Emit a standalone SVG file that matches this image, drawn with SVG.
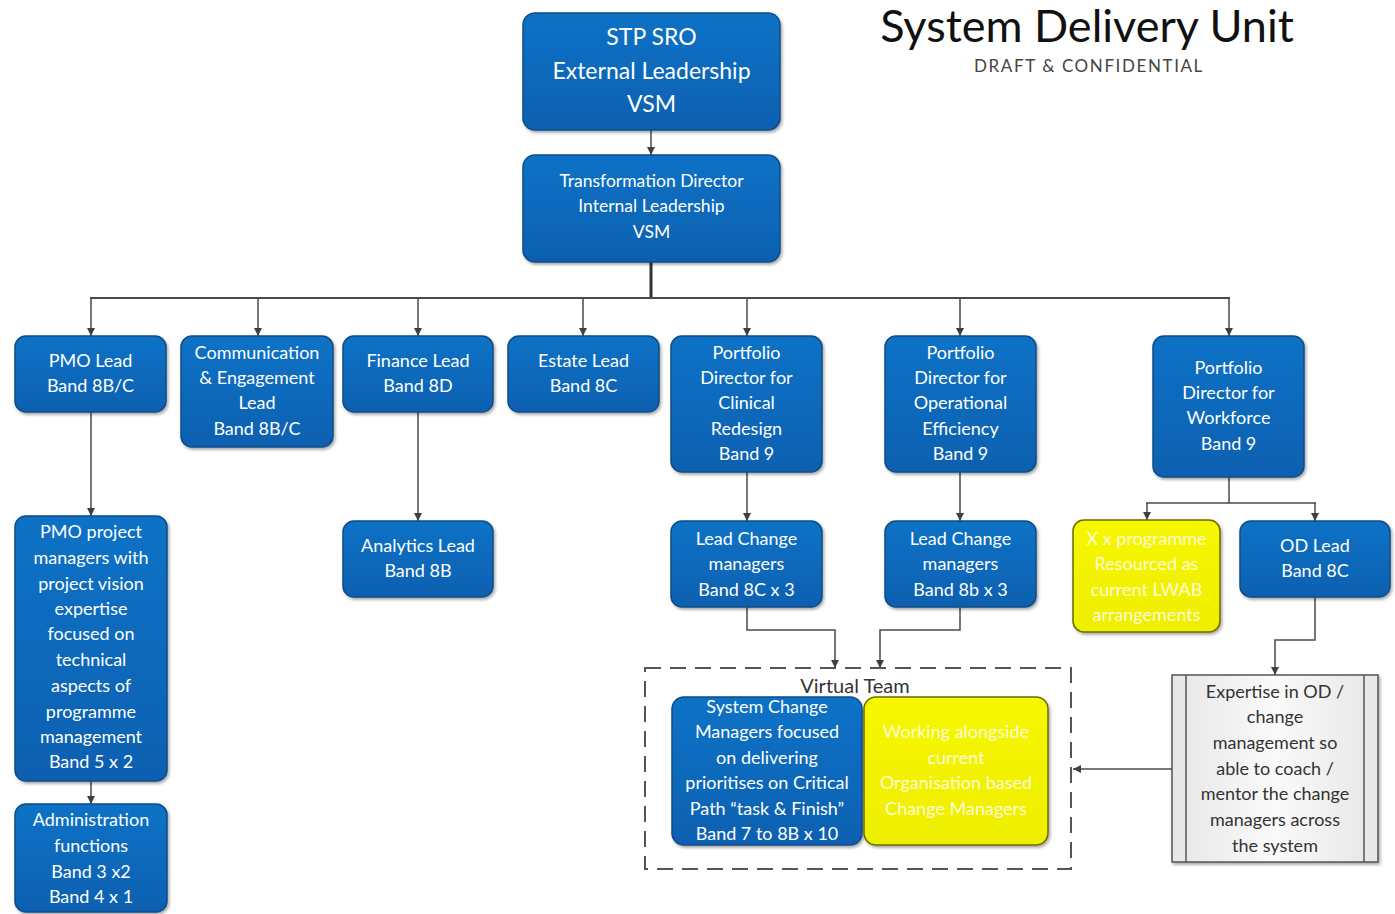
<svg xmlns="http://www.w3.org/2000/svg" width="1395" height="914" viewBox="0 0 1395 914">
<defs>
<linearGradient id="blue" x1="0" y1="0" x2="0" y2="1">
<stop offset="0" stop-color="#1172c6"/>
<stop offset="1" stop-color="#0a60b0"/>
</linearGradient>
<linearGradient id="yel" x1="0" y1="0" x2="0" y2="1">
<stop offset="0" stop-color="#f7f700"/>
<stop offset="1" stop-color="#eeee00"/>
</linearGradient>
<linearGradient id="grey" x1="0" y1="0" x2="1" y2="0">
<stop offset="0" stop-color="#e6e6e6"/>
<stop offset="0.5" stop-color="#fafafa"/>
<stop offset="1" stop-color="#e6e6e6"/>
</linearGradient>
<filter id="sh" x="-10%" y="-10%" width="125%" height="125%">
<feDropShadow dx="1.5" dy="2" stdDeviation="1.5" flood-color="#000" flood-opacity="0.35"/>
</filter>
<marker id="ar" viewBox="0 0 10 10" refX="10" refY="5" markerWidth="8" markerHeight="8" markerUnits="userSpaceOnUse" orient="auto">
<path d="M0,0 L10,5 L0,10 z" fill="#404040"/>
</marker>
</defs>
<style>
.b{fill:url(#blue);stroke:#0b4c88;stroke-width:1.5;filter:url(#sh)}
.y{fill:url(#yel);stroke:#6b6b00;stroke-width:1.5;filter:url(#sh)}
.t{font-family:Lato,"Open Sans","Liberation Sans",sans-serif;fill:#fff;text-anchor:middle;font-size:18px}
.ty{font-family:Lato,"Open Sans","Liberation Sans",sans-serif;fill:#fbfbd8;text-anchor:middle;font-size:18px}
.td{font-family:Lato,"Open Sans","Liberation Sans",sans-serif;fill:#333;text-anchor:middle;font-size:18px}
.c{fill:none;stroke:#4a4a4a;stroke-width:1.5}
.ca{fill:none;stroke:#4a4a4a;stroke-width:1.5;marker-end:url(#ar)}
</style>
<rect width="1395" height="914" fill="#fff"/>

<g id="title">
<text x="1087" y="42" font-family="Lato,'Open Sans','Liberation Sans',sans-serif" font-size="45" fill="#111" text-anchor="middle">System Delivery Unit</text>
<text x="1089" y="72" font-family="Lato,'Open Sans','Liberation Sans',sans-serif" font-size="17" fill="#444" text-anchor="middle" letter-spacing="1.6">DRAFT &amp; CONFIDENTIAL</text>
</g>

<g id="connectors">
<line class="ca" x1="651" y1="130" x2="651" y2="155"/>
<line x1="651" y1="262" x2="651" y2="298" stroke="#333" stroke-width="3"/>
<line x1="90" y1="298" x2="1230" y2="298" stroke="#4a4a4a" stroke-width="2"/>
<line class="ca" x1="91" y1="298" x2="91" y2="336"/>
<line class="ca" x1="258" y1="298" x2="258" y2="336"/>
<line class="ca" x1="418" y1="298" x2="418" y2="336"/>
<line class="ca" x1="583" y1="298" x2="583" y2="336"/>
<line class="ca" x1="747" y1="298" x2="747" y2="336"/>
<line class="ca" x1="960" y1="298" x2="960" y2="336"/>
<line class="ca" x1="1229" y1="298" x2="1229" y2="336"/>
<line class="ca" x1="91" y1="412" x2="91" y2="516"/>
<line class="ca" x1="91" y1="781" x2="91" y2="804"/>
<line class="ca" x1="418" y1="412" x2="418" y2="521"/>
<line class="ca" x1="747" y1="472" x2="747" y2="521"/>
<line class="ca" x1="960" y1="472" x2="960" y2="521"/>
<line class="c" x1="1229" y1="477" x2="1229" y2="503"/>
<line class="c" x1="1146" y1="503" x2="1316" y2="503"/>
<line class="ca" x1="1147" y1="503" x2="1147" y2="520"/>
<line class="ca" x1="1315" y1="503" x2="1315" y2="521"/>
<polyline class="ca" points="747,607 747,630 835,630 835,668"/>
<polyline class="ca" points="960,607 960,630 880,630 880,668"/>
<polyline class="ca" points="1315,597 1315,640 1275,640 1275,675"/>
<line class="ca" x1="1172" y1="769" x2="1073" y2="769"/>
</g>

<g id="stp-sro">
<rect class="b" x="523" y="13" width="257" height="117" rx="12"/>
<text class="t" style="font-size:23px"><tspan x="651.5" y="45">STP SRO</tspan><tspan x="651.5" y="79">External Leadership</tspan><tspan x="651.5" y="112">VSM</tspan></text>
</g>

<g id="transformation-director">
<rect class="b" x="523" y="155" width="257" height="107" rx="12"/>
<text class="t" style="font-size:17.5px"><tspan x="651.5" y="187">Transformation Director</tspan><tspan x="651.5" y="212">Internal Leadership</tspan><tspan x="651.5" y="238">VSM</tspan></text>
</g>

<g id="pmo-lead">
<rect class="b" x="15" y="336" width="151" height="76" rx="11"/>
<text class="t"><tspan x="90.5" y="366.5">PMO Lead</tspan><tspan x="90.5" y="391.5">Band 8B/C</tspan></text>
</g>

<g id="comms-lead">
<rect class="b" x="181" y="336" width="152" height="111" rx="11"/>
<text class="t"><tspan x="257" y="358.5">Communication</tspan><tspan x="257" y="383.5">&amp; Engagement</tspan><tspan x="257" y="408.5">Lead</tspan><tspan x="257" y="434.5">Band 8B/C</tspan></text>
</g>

<g id="finance-lead">
<rect class="b" x="343" y="336" width="150" height="76" rx="11"/>
<text class="t"><tspan x="418" y="366.5">Finance Lead</tspan><tspan x="418" y="391.5">Band 8D</tspan></text>
</g>

<g id="estate-lead">
<rect class="b" x="508" y="336" width="151" height="76" rx="11"/>
<text class="t"><tspan x="583.5" y="366.5">Estate Lead</tspan><tspan x="583.5" y="391.5">Band 8C</tspan></text>
</g>

<g id="pd-clinical">
<rect class="b" x="671" y="336" width="151" height="136" rx="11"/>
<text class="t"><tspan x="746.5" y="358.5">Portfolio</tspan><tspan x="746.5" y="383.5">Director for</tspan><tspan x="746.5" y="408.5">Clinical</tspan><tspan x="746.5" y="434.5">Redesign</tspan><tspan x="746.5" y="459.5">Band 9</tspan></text>
</g>

<g id="pd-operational">
<rect class="b" x="885" y="336" width="151" height="136" rx="11"/>
<text class="t"><tspan x="960.5" y="358.5">Portfolio</tspan><tspan x="960.5" y="383.5">Director for</tspan><tspan x="960.5" y="408.5">Operational</tspan><tspan x="960.5" y="434.5">Efficiency</tspan><tspan x="960.5" y="459.5">Band 9</tspan></text>
</g>

<g id="pd-workforce">
<rect class="b" x="1153" y="336" width="151" height="141" rx="11"/>
<text class="t"><tspan x="1228.5" y="373.5">Portfolio</tspan><tspan x="1228.5" y="398.5">Director for</tspan><tspan x="1228.5" y="423.5">Workforce</tspan><tspan x="1228.5" y="449.5">Band 9</tspan></text>
</g>

<g id="pmo-pm">
<rect class="b" x="15" y="516" width="152" height="265" rx="11"/>
<text class="t"><tspan x="91" y="537.5">PMO project</tspan><tspan x="91" y="563.5">managers with</tspan><tspan x="91" y="589.5">project vision</tspan><tspan x="91" y="614.5">expertise</tspan><tspan x="91" y="639.5">focused on</tspan><tspan x="91" y="665.5">technical</tspan><tspan x="91" y="691.5">aspects of</tspan><tspan x="91" y="717.5">programme</tspan><tspan x="91" y="742.5">management</tspan><tspan x="91" y="767.5">Band 5 x 2</tspan></text>
</g>

<g id="admin">
<rect class="b" x="15" y="804" width="152" height="108" rx="11"/>
<text class="t"><tspan x="91" y="825.5">Administration</tspan><tspan x="91" y="851.5">functions</tspan><tspan x="91" y="877.5">Band 3 x2</tspan><tspan x="91" y="902.5">Band 4 x 1</tspan></text>
</g>

<g id="analytics-lead">
<rect class="b" x="343" y="521" width="150" height="76" rx="11"/>
<text class="t"><tspan x="418" y="551.5">Analytics Lead</tspan><tspan x="418" y="576.5">Band 8B</tspan></text>
</g>

<g id="lcm-clinical">
<rect class="b" x="671" y="521" width="151" height="86" rx="11"/>
<text class="t"><tspan x="746.5" y="544.5">Lead Change</tspan><tspan x="746.5" y="569.5">managers</tspan><tspan x="746.5" y="595.5">Band 8C x 3</tspan></text>
</g>

<g id="lcm-operational">
<rect class="b" x="885" y="521" width="151" height="86" rx="11"/>
<text class="t"><tspan x="960.5" y="544.5">Lead Change</tspan><tspan x="960.5" y="569.5">managers</tspan><tspan x="960.5" y="595.5">Band 8b x 3</tspan></text>
</g>

<g id="lwab">
<rect class="y" x="1073" y="520" width="147" height="112" rx="11"/>
<text class="ty"><tspan x="1146.5" y="544.5">X x programme</tspan><tspan x="1146.5" y="569.5">Resourced as</tspan><tspan x="1146.5" y="595.5">current LWAB</tspan><tspan x="1146.5" y="620.5">arrangements</tspan></text>
</g>

<g id="od-lead">
<rect class="b" x="1240" y="521" width="150" height="76" rx="11"/>
<text class="t"><tspan x="1315" y="551.5">OD Lead</tspan><tspan x="1315" y="576.5">Band 8C</tspan></text>
</g>

<g id="virtual-team">
<rect x="645" y="668" width="426" height="201" fill="none" stroke="#555" stroke-width="2" stroke-dasharray="16 9"/>
<text x="855" y="693" font-family="Lato,'Open Sans','Liberation Sans',sans-serif" font-size="20" fill="#333" text-anchor="middle">Virtual Team</text>
</g>

<g id="system-change-managers">
<rect class="b" x="672" y="697" width="190" height="148" rx="12"/>
<text class="t"><tspan x="767" y="712.5">System Change</tspan><tspan x="767" y="737.5">Managers focused</tspan><tspan x="767" y="763.5">on delivering</tspan><tspan x="767" y="788.5">prioritises on Critical</tspan><tspan x="767" y="814.5">Path “task &amp; Finish”</tspan><tspan x="767" y="839.5">Band 7 to 8B x 10</tspan></text>
</g>

<g id="org-change-managers">
<rect class="y" x="864" y="697" width="184" height="148" rx="12"/>
<text class="ty"><tspan x="956" y="737.5">Working alongside</tspan><tspan x="956" y="763.5">current</tspan><tspan x="956" y="788.5">Organisation based</tspan><tspan x="956" y="814.5">Change Managers</tspan></text>
</g>

<g id="od-expertise">
<rect x="1172" y="675" width="206" height="187" fill="url(#grey)" stroke="#555" stroke-width="1.5" filter="url(#sh)"/>
<line x1="1186" y1="675" x2="1186" y2="862" stroke="#555" stroke-width="1.5"/>
<line x1="1364" y1="675" x2="1364" y2="862" stroke="#555" stroke-width="1.5"/>
<text class="td"><tspan x="1275" y="697.5">Expertise in OD /</tspan><tspan x="1275" y="722.5">change</tspan><tspan x="1275" y="748.5">management so</tspan><tspan x="1275" y="774.5">able to coach /</tspan><tspan x="1275" y="799.5">mentor the change</tspan><tspan x="1275" y="825.5">managers across</tspan><tspan x="1275" y="851.5">the system</tspan></text>
</g>
</svg>
